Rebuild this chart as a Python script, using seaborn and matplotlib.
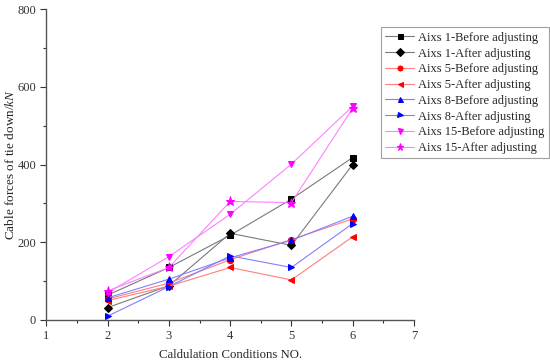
import numpy as np
import pandas as pd
import seaborn as sns
import matplotlib.pyplot as plt

conditions = [2, 3, 4, 5, 6]

labels = ['Aixs 1-Before adjusting', 'Aixs 1-After adjusting',
          'Aixs 5-Before adjusting', 'Aixs 5-After adjusting',
          'Aixs 8-Before adjusting', 'Aixs 8-After adjusting',
          'Aixs 15-Before adjusting', 'Aixs 15-After adjusting']

axis1_before = [64, 135, 218, 311, 418]
axis1_after = [32, 88, 223, 192, 400]
axis5_before = [54, 95, 155, 207, 260]
axis5_after = [50, 87, 135, 103, 214]
axis8_before = [57, 105, 160, 205, 267]
axis8_after = [10, 86, 165, 135, 248]
axis15_before = [70, 163, 272, 401, 550]
axis15_after = [75, 135, 305, 302, 545]

series = [axis1_before, axis1_after, axis5_before, axis5_after,
          axis8_before, axis8_after, axis15_before, axis15_after]

# marker colour, line colour (lighter), marker
styles = [('black', '#7a7a7a', 's'), ('black', '#7a7a7a', 'D'),
          ('red', '#ff7f7f', 'o'), ('red', '#ff7f7f', '<'),
          ('blue', '#8080ff', '^'), ('blue', '#8080ff', '>'),
          ('magenta', '#ff80ff', 'v'), ('magenta', '#ff80ff', '*')]

sns.set_style('ticks')
plt.rcParams['font.family'] = ['Liberation Serif', 'DejaVu Serif']
plt.rcParams['mathtext.fontset'] = 'custom'
plt.rcParams['mathtext.rm'] = 'Liberation Serif'
plt.rcParams['mathtext.it'] = 'Liberation Serif:italic'

fig = plt.figure(figsize=(5.5, 3.64), dpi=100)
ax = fig.add_axes([0.0845, 0.121, 0.668, 0.854])

for vals, lab, (mc, lc, m) in zip(series, labels, styles):
    df = pd.DataFrame({'cond': conditions, 'force': vals})
    ms = 6.5 if m == '*' else 4.5
    sns.lineplot(data=df, x='cond', y='force', ax=ax, color=lc, lw=0.8,
                 marker=m, markersize=ms, markerfacecolor=mc,
                 markeredgecolor=mc, label=lab)

ax.set_xlim(1, 7)
ax.set_ylim(0, 800)
ax.set_xticks(range(1, 8))
ax.set_xticks(np.arange(1.5, 7, 1), minor=True)
ax.set_yticks(range(0, 801, 200))
ax.set_yticks(range(100, 800, 200), minor=True)
ax.tick_params(which='major', length=4, width=0.8, labelsize=9,
               colors='#333333')
ax.tick_params(which='minor', length=2, width=0.8, colors='#333333')
sns.despine(ax=ax)
for s in ['left', 'bottom']:
    ax.spines[s].set_color('#555555')
    ax.spines[s].set_linewidth(1)

ax.set_xlabel('Caldulation Conditions NO.', fontsize=9.2, labelpad=5)
ax.set_ylabel(r'Cable forces of tie down/$\it{kN}$', fontsize=9.5, labelpad=0)

leg = ax.legend(loc='upper left', bbox_to_anchor=(0.910, 0.941),
                borderaxespad=0, fontsize=9, frameon=True, fancybox=False,
                edgecolor='#888888', handlelength=2.3, labelspacing=0.3,
                borderpad=0.35, handletextpad=0.35, markerscale=0.8)
leg.get_frame().set_linewidth(0.8)

fig.savefig('out.png', dpi=100)
